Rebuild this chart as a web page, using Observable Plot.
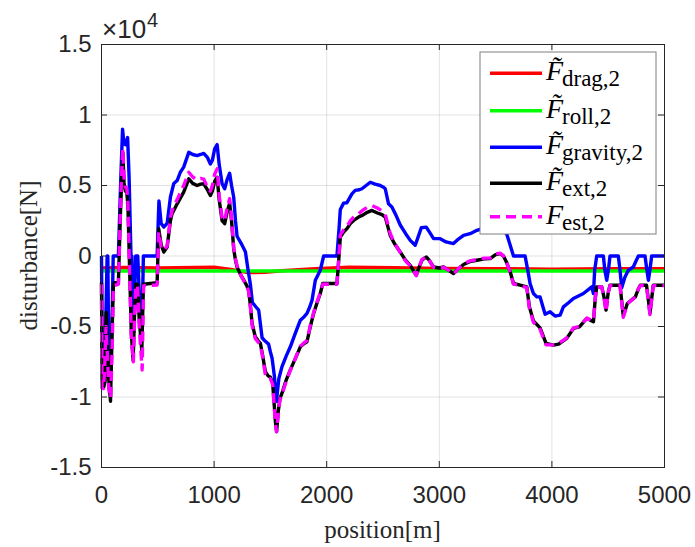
<!DOCTYPE html>
<html><head><meta charset="utf-8">
<script src="https://cdn.jsdelivr.net/npm/d3@7"></script>
<script src="https://cdn.jsdelivr.net/npm/@observablehq/plot@0.6"></script>
<style>body{margin:0;background:#fff}</style>
</head><body><div id="chart"></div>
<script>
// ---- data (position [m], disturbance [N]) ----
const xTicks = [0, 1000, 2000, 3000, 4000, 5000];
const xTickLabels = ["0", "1000", "2000", "3000", "4000", "5000"];
const yTicks = [-15000, -10000, -5000, 0, 5000, 10000, 15000];
const yTickLabels = ["-1.5", "-1", "-0.5", "0", "0.5", "1", "1.5"];

const drag = [[0,-850],[200,-820],[500,-850],[1000,-800],[1150,-950],[1300,-1180],[1450,-1150],[1600,-1050],[1900,-900],[2200,-800],[2600,-830],[3000,-880],[3500,-900],[4000,-930],[4500,-900],[5000,-900]];
const roll = [[0,-1060],[1000,-1060],[2000,-1060],[3000,-1060],[4000,-1060],[5000,-1060]];

const gravity = [[0,0],[6,-7000],[20,-7300],[30,-7600],[42,-3000],[50,0],[56,0],[62,-5000],[75,-8000],[84,-8400],[95,-4000],[104,0],[150,0],[170,5200],[187,9000],[200,7950],[214,7900],[232,8400],[245,5600],[262,0],[270,0],[278,-3200],[286,-5400],[296,-2500],[304,0],[322,0],[332,-2000],[350,-4700],[362,-4200],[372,0],[494,0],[500,1500],[510,3900],[530,2300],[553,2050],[583,2310],[612,4170],[642,5140],[672,5350],[700,5940],[730,6300],[775,7350],[810,7200],[849,7120],[880,7200],[908,7280],[940,7000],[967,6530],[985,6800],[1005,7600],[1027,7900],[1045,6500],[1071,5120],[1094,4770],[1115,5400],[1138,5870],[1155,5000],[1174,4170],[1190,2500],[1204,1400],[1240,900],[1278,300],[1300,-900],[1322,-2000],[1340,-3300],[1370,-3600],[1396,-3840],[1426,-5800],[1455,-6050],[1484,-6250],[1500,-6800],[1515,-7250],[1535,-8500],[1553,-10330],[1575,-8700],[1603,-7850],[1640,-7100],[1677,-6440],[1720,-5500],[1766,-4550],[1800,-4300],[1825,-4070],[1850,-3600],[1870,-3130],[1899,-1720],[1943,-1010],[1973,0],[2091,0],[2110,2000],[2121,3300],[2150,3750],[2180,3780],[2224,4410],[2253,4650],[2290,4700],[2313,4770],[2350,5000],[2387,5230],[2430,5100],[2476,5000],[2500,4900],[2520,4770],[2549,3700],[2579,3470],[2615,2900],[2653,2200],[2700,1600],[2742,1110],[2786,760],[2810,1300],[2840,2000],[2884,2050],[2920,1600],[2949,1230],[3008,1230],[3060,1000],[3126,880],[3170,1200],[3215,1460],[3274,1580],[3334,1820],[3400,2000],[3450,2250],[3500,2350],[3550,2100],[3600,1520],[3640,500],[3659,0],[3762,0],[3790,-1200],[3806,-1950],[3836,-2660],[3866,-2900],[3895,-2900],[3920,-3600],[3940,-4130],[3984,-3960],[4028,-4260],[4073,-4190],[4102,-3610],[4150,-3300],[4191,-3010],[4280,-2660],[4354,-2190],[4369,-2660],[4380,-1000],[4398,0],[4457,0],[4470,-1000],[4487,-1720],[4505,-800],[4516,0],[4590,0],[4605,-1000],[4620,-2250],[4649,-1490],[4679,-1010],[4723,-780],[4750,-300],[4768,0],[4827,0],[4842,-900],[4857,-1720],[4872,-900],[4886,0],[5000,0]];

const ext = [[0,-1900],[5,-8800],[20,-9300],[32,-8900],[42,-4000],[50,-5500],[62,-8500],[80,-10300],[92,-6000],[105,-2200],[115,-1900],[150,-1900],[168,3000],[180,5500],[190,7300],[200,5200],[212,4600],[225,4500],[235,3500],[250,-1000],[265,-5500],[281,-7400],[292,-4500],[304,-2000],[320,-2000],[335,-4500],[358,-6700],[372,-2000],[494,-1900],[508,1940],[530,800],[553,280],[583,640],[612,2500],[627,3000],[642,3230],[672,3700],[700,4100],[730,4530],[775,5470],[810,5150],[849,5000],[880,5100],[908,5120],[940,4700],[967,4290],[985,4600],[1005,5300],[1027,5590],[1045,4000],[1071,2500],[1094,2290],[1115,3100],[1138,3750],[1155,2500],[1174,500],[1190,-300],[1204,-780],[1240,-1400],[1263,-1700],[1290,-2100],[1307,-2430],[1322,-3500],[1337,-4780],[1366,-5730],[1390,-6000],[1411,-6200],[1430,-7000],[1455,-8200],[1480,-8500],[1500,-8600],[1520,-9000],[1529,-10000],[1545,-11800],[1555,-12450],[1570,-11000],[1585,-10100],[1603,-9730],[1640,-8800],[1677,-8080],[1720,-7300],[1766,-6440],[1800,-6200],[1825,-6080],[1855,-5000],[1884,-4070],[1915,-3300],[1943,-2660],[1965,-1950],[2091,-1950],[2105,-500],[2121,1340],[2150,1700],[2180,1940],[2210,2300],[2239,2520],[2283,2760],[2320,2900],[2360,3100],[2402,3230],[2450,3050],[2491,2940],[2520,2760],[2564,1460],[2600,900],[2653,290],[2700,-300],[2742,-660],[2795,-1360],[2820,-800],[2846,-300],[2884,-70],[2910,-300],[2949,-780],[3000,-850],[3038,-780],[3080,-1000],[3126,-1240],[3170,-900],[3215,-600],[3270,-400],[3334,-300],[3400,-200],[3452,-180],[3500,100],[3540,170],[3570,0],[3600,-500],[3630,-1130],[3659,-1950],[3718,-2070],[3777,-2190],[3800,-3600],[3836,-4600],[3895,-5100],[3948,-6200],[4014,-6320],[4060,-6250],[4132,-5840],[4191,-5140],[4244,-5020],[4310,-4430],[4369,-4670],[4385,-3000],[4398,-2190],[4443,-2190],[4465,-3000],[4481,-3840],[4500,-2600],[4516,-2070],[4605,-2070],[4620,-3200],[4634,-4250],[4670,-3370],[4741,-2900],[4770,-2300],[4785,-2070],[4840,-2070],[4855,-3000],[4871,-4070],[4888,-2900],[4900,-2070],[5000,-2070]];

const est = [[0,-2000],[4,-9360],[18,-9400],[28,-8000],[40,-5000],[52,-7000],[65,-9500],[82,-10060],[95,-6500],[105,-2500],[115,-2100],[150,-2000],[168,3300],[180,6000],[190,7600],[200,5600],[212,4900],[225,4800],[235,3700],[250,-1200],[265,-5800],[283,-7500],[293,-4600],[304,-2100],[320,-2100],[335,-5000],[361,-8080],[374,-2100],[494,-2060],[508,1700],[530,600],[553,400],[583,700],[612,2700],[627,3200],[642,3500],[672,4000],[700,4500],[730,5000],[775,5940],[810,5600],[849,5400],[880,5500],[908,5450],[940,4900],[967,4600],[985,5000],[1005,5800],[1027,6180],[1045,4300],[1071,2700],[1094,2500],[1115,3400],[1138,4060],[1155,2700],[1174,600],[1190,-200],[1204,-700],[1240,-1400],[1263,-1750],[1290,-2150],[1307,-2500],[1322,-3600],[1337,-4900],[1366,-5850],[1390,-6100],[1411,-6300],[1430,-7100],[1455,-8400],[1480,-8700],[1500,-8700],[1520,-9100],[1529,-10100],[1545,-11900],[1555,-12470],[1570,-11100],[1585,-10200],[1603,-9800],[1640,-8900],[1677,-8100],[1720,-7300],[1766,-6400],[1800,-6150],[1825,-6000],[1855,-4900],[1884,-4000],[1915,-3250],[1943,-2600],[1965,-2000],[2091,-2000],[2105,-400],[2121,1500],[2150,1850],[2180,2100],[2210,2500],[2239,2750],[2283,3000],[2320,3250],[2360,3450],[2402,3580],[2450,3400],[2491,3200],[2520,2950],[2564,1600],[2600,950],[2653,250],[2700,-350],[2742,-700],[2795,-1400],[2820,-800],[2846,-250],[2884,-50],[2910,-300],[2949,-800],[3000,-850],[3038,-800],[3080,-1000],[3126,-1280],[3170,-900],[3215,-550],[3270,-350],[3334,-250],[3400,-150],[3452,-150],[3500,150],[3540,200],[3570,0],[3600,-500],[3630,-1150],[3659,-2000],[3718,-2100],[3777,-2250],[3800,-3700],[3836,-4700],[3895,-5200],[3948,-6300],[4014,-6300],[4060,-6200],[4132,-5800],[4191,-5100],[4244,-5000],[4310,-4400],[4369,-4600],[4385,-3000],[4398,-2200],[4443,-2200],[4465,-3100],[4481,-3950],[4500,-2600],[4516,-2100],[4605,-2100],[4620,-3300],[4634,-4350],[4670,-3400],[4741,-2900],[4770,-2300],[4785,-2100],[4840,-2100],[4855,-3100],[4871,-4150],[4888,-2900],[4900,-2100],[5000,-2100]];

const legendMain = ["F\u0303", "F\u0303", "F\u0303", "F\u0303", "F"];
const legendSub = ["drag,2", "roll,2", "gravity,2", "ext,2", "est,2"];
const seriesColors = ["#ff0000", "#00ff00", "#0000ff", "#000000", "#ff00ff"];

// ---- layout ----
const W = 695, H = 547, mL = 101, mR = 31, mT = 44, mB = 80;
const plotH = H - mT - mB, plotW = W - mL - mR;
const tickLenY = 6 * 30000 / plotH, tickLenX = 6 * 5000 / plotW;
const xy = {x: d => d[0], y: d => d[1], strokeWidth: 3.4, strokeLinejoin: "round", strokeLinecap: "butt"};
const axisColor = "#262626";

const chart = Plot.plot({
  width: W, height: H,
  marginLeft: mL, marginRight: mR, marginTop: mT, marginBottom: mB,
  style: {fontFamily: "'Liberation Sans', Arial, sans-serif", fontSize: "24px", color: axisColor, background: "#fff", overflow: "visible"},
  x: {domain: [0, 5000]},
  y: {domain: [-15000, 15000]},
  marks: [
    Plot.ruleX(xTicks.slice(1, -1), {x: d => d, stroke: "#000", strokeOpacity: 0.11}),
    Plot.ruleY(yTicks.slice(1, -1), {y: d => d, stroke: "#000", strokeOpacity: 0.11}),
    Plot.line(drag, {...xy, stroke: seriesColors[0]}),
    Plot.line(roll, {...xy, stroke: seriesColors[1]}),
    Plot.line(gravity, {...xy, stroke: seriesColors[2]}),
    Plot.line(ext, {...xy, stroke: seriesColors[3]}),
    Plot.line(est, {...xy, stroke: seriesColors[4], strokeDasharray: "10,6"}),
    Plot.frame({stroke: axisColor}),
    Plot.ruleX(xTicks, {x: d => d, y1: () => -15000, y2: () => -15000 + tickLenY, stroke: axisColor}),
    Plot.ruleX(xTicks, {x: d => d, y1: () => 15000, y2: () => 15000 - tickLenY, stroke: axisColor}),
    Plot.ruleY(yTicks, {y: d => d, x1: () => 0, x2: () => tickLenX, stroke: axisColor}),
    Plot.ruleY(yTicks, {y: d => d, x1: () => 5000, x2: () => 5000 - tickLenX, stroke: axisColor}),
    Plot.axisX({ticks: xTicks, tickSize: 0, tickPadding: 18, tickFormat: d => xTickLabels[xTicks.indexOf(d)], label: null}),
    Plot.axisY({ticks: yTicks, tickSize: 0, tickPadding: 10, tickFormat: d => yTickLabels[yTicks.indexOf(d)], label: null})
  ]
});
document.getElementById("chart").appendChild(chart);

const svg = d3.select(chart);
const serif = "'Liberation Serif', 'Times New Roman', serif";
// exponent
const ex = svg.append("text").attr("x", 102).attr("y", 38).attr("text-anchor", "start")
  .attr("font-family", "'Liberation Sans', Arial, sans-serif").attr("font-size", 26).attr("fill", axisColor);
ex.append("tspan").text("×10");
ex.append("tspan").attr("font-size", 20).attr("dx", 1).attr("dy", -11).text("4");
// axis labels
svg.append("text").attr("x", (mL + W - mR) / 2).attr("y", 538).attr("text-anchor", "middle")
  .attr("font-family", serif).attr("font-size", 25).attr("fill", axisColor).text("position[m]");
svg.append("text").attr("transform", `translate(37,${(mT + H - mB) / 2}) rotate(-90)`).attr("text-anchor", "middle")
  .attr("font-family", serif).attr("font-size", 25).attr("fill", axisColor).text("disturbance[N]");
// legend
const lg = svg.append("g").attr("text-anchor", "start");
lg.append("rect").attr("x", 480).attr("y", 52).attr("width", 176).attr("height", 182)
  .attr("fill", "#fff").attr("stroke", "#7f7f7f").attr("stroke-width", 1);
const rowY = [73.3, 110.7, 147.3, 183.3, 216.7];
legendSub.forEach((s, i) => {
  const y = rowY[i];
  lg.append("line").attr("x1", 490).attr("x2", 542).attr("y1", y).attr("y2", y)
    .attr("stroke", seriesColors[i]).attr("stroke-width", 3.4)
    .attr("stroke-dasharray", i === 4 ? "10,6" : null);
  const t = lg.append("text").attr("y", y + 7).attr("text-anchor", "start").attr("font-family", serif).attr("fill", "#000");
  t.append("tspan").attr("x", 546).attr("font-size", 28).attr("font-style", "italic").text(legendMain[i]);
  t.append("tspan").attr("x", 562).attr("dy", 6).attr("font-size", 23).text(s);
});
</script></body></html>
